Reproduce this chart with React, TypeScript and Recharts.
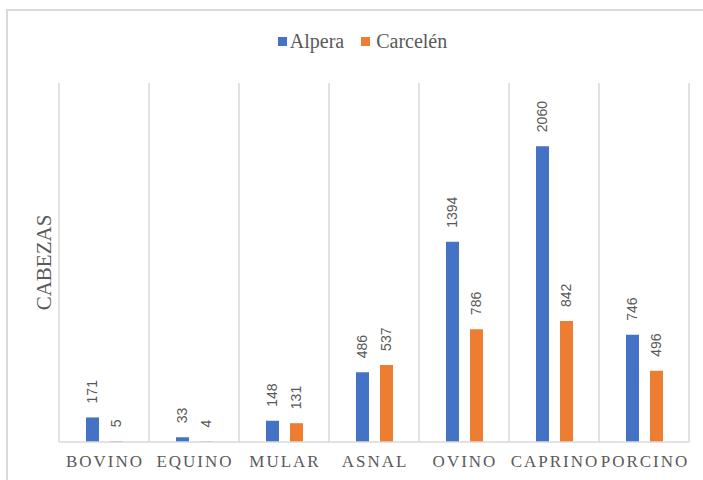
import { BarChart, Bar, XAxis, YAxis, CartesianGrid, Legend, LabelList, Label } from "recharts"

const categories = ["BOVINO", "EQUINO", "MULAR", "ASNAL", "OVINO", "CAPRINO", "PORCINO"]
const alpera = [171, 33, 148, 486, 1394, 2060, 746]
const carcelen = [5, 4, 131, 537, 786, 842, 496]

const data = categories.map((name, i) => ({ name, alpera: alpera[i], carcelen: carcelen[i] }))

const GRAY = "#595959"
const GRID = "#d9d9d9"
const BLUE = "#4472C4"
const ORANGE = "#ED7D31"
const SERIF = "'Liberation Serif', 'Times New Roman', serif"

const BarValue = (props: any) => {
  const { x, y, width, value } = props
  const cx = x + width / 2
  const cy = y - 14
  return (
    <text
      x={cx}
      y={cy}
      transform={`rotate(-90 ${cx} ${cy})`}
      textAnchor="start"
      dominantBaseline="central"
      fill={GRAY}
      fontSize={14}
      fontFamily="'Liberation Sans', Arial, sans-serif"
    >
      {value}
    </text>
  )
}

const CategoryTick = (props: any) => {
  const { x, y, payload } = props
  return (
    <text
      x={x + 1}
      y={y}
      dy={17}
      textAnchor="middle"
      fill={GRAY}
      fontSize={17}
      letterSpacing={2}
      fontFamily={SERIF}
    >
      {payload.value}
    </text>
  )
}

const AxisTitle = (props: any) => {
  const { viewBox } = props
  const cx = viewBox.x + viewBox.width - 15
  const cy = viewBox.y + viewBox.height / 2
  return (
    <text
      x={cx}
      y={cy}
      transform={`rotate(-90 ${cx} ${cy})`}
      textAnchor="middle"
      dominantBaseline="central"
      fill={GRAY}
      fontSize={21}
      fontFamily={SERIF}
    >
      CABEZAS
    </text>
  )
}

const LegendContent = (props: any) => {
  const { payload } = props
  return (
    <div style={{ display: "flex", justifyContent: "center", alignItems: "center", height: 26 }}>
      {(payload || []).map((p: any, i: number) => (
        <div key={i} style={{ display: "flex", alignItems: "center", marginRight: i === 0 ? 17 : 0 }}>
          <span style={{ width: 9, height: 9, background: p.color, display: "inline-block", marginRight: i === 0 ? 3 : 6 }} />
          <span style={{ fontFamily: SERIF, fontSize: 20, color: GRAY, lineHeight: "26px" }}>{p.value}</span>
        </div>
      ))}
    </div>
  )
}

export default function App() {
  return (
    <div style={{ position: "absolute", left: 0, top: 0, width: 703, height: 480, overflow: "hidden", background: "#fff" }}>
      <div style={{ position: "absolute", left: 6, top: 9, width: 760, height: 540, border: `2px solid ${GRID}` }} />
      <div style={{ position: "absolute", left: 0, top: 0 }}>
        <BarChart
          width={703}
          height={480}
          data={data}
          margin={{ top: 57, right: 14, bottom: 8, left: 29 }}
          barSize={13}
          barGap={11}
        >
          <CartesianGrid
            horizontal={false}
            vertical
            stroke={GRID}
            strokeWidth={1.5}
            verticalCoordinatesGenerator={({ offset }: any) =>
              categories.map((_, i) => offset.left + (i * offset.width) / categories.length).concat(offset.left + offset.width)
            }
          />
          <XAxis
            dataKey="name"
            interval={0}
            height={30}
            tickLine={false}
            axisLine={{ stroke: GRID, strokeWidth: 1.5 }}
            tick={<CategoryTick />}
          />
          <YAxis domain={[0, 2500]} width={30} tick={false} tickLine={false} axisLine={false}>
            <Label content={(p: any) => <AxisTitle {...p} />} />
          </YAxis>
          <Legend
            verticalAlign="top"
            align="center"
            height={26}
            wrapperStyle={{ top: 28, left: 11, width: 703 }}
            content={(p: any) => <LegendContent {...p} />}
          />
          <Bar dataKey="alpera" name="Alpera" fill={BLUE} isAnimationActive={false}>
            <LabelList dataKey="alpera" content={<BarValue />} />
          </Bar>
          <Bar dataKey="carcelen" name="Carcelén" fill={ORANGE} isAnimationActive={false}>
            <LabelList dataKey="carcelen" content={<BarValue />} />
          </Bar>
        </BarChart>
      </div>
    </div>
  )
}
